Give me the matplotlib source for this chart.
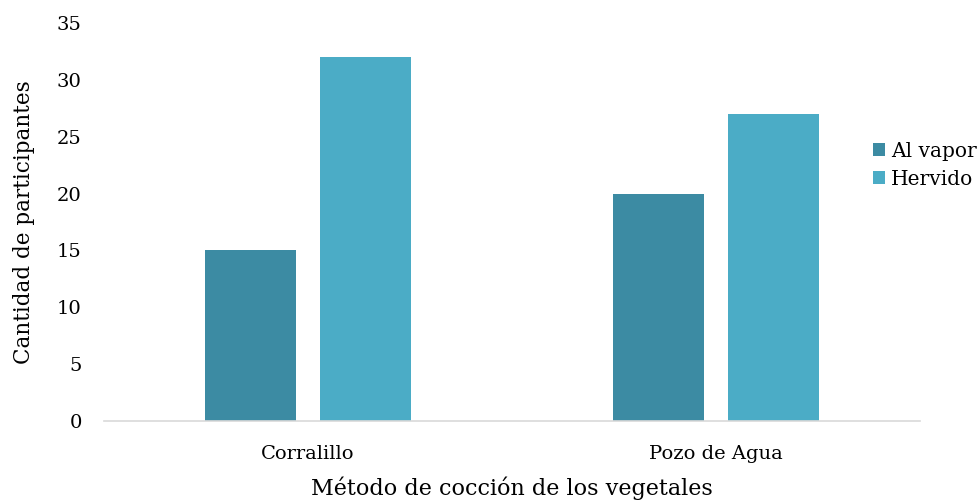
import matplotlib
matplotlib.use("Agg")
import matplotlib.pyplot as plt
import numpy as np

categories = ["Corralillo", "Pozo de Agua"]
al_vapor = [15, 20]
hervido = [32, 27]
series_names = ["Al vapor", "Hervido"]
yticks = [0, 5, 10, 15, 20, 25, 30, 35]

plt.rcParams['font.family'] = ['DejaVu Serif']

fig = plt.figure(figsize=(9.79, 5.0), dpi=100)
ax = fig.add_axes([104/979, 79/500, 816/979, 398/500])

x = np.arange(len(categories))
w = 0.223
off = 0.1415
ax.bar(x - off, al_vapor, w, color='#3C8BA3', label=series_names[0])
ax.bar(x + off, hervido, w, color='#4BACC6', label=series_names[1])

ax.set_xlim(-0.5, 1.5)
ax.set_ylim(0, 35)
ax.set_yticks(yticks)
ax.set_xticks(x)
ax.set_xticklabels(categories)
for s in ['top', 'right', 'left']:
    ax.spines[s].set_visible(False)
ax.spines['bottom'].set_color('#D9D9D9')
ax.spines['bottom'].set_linewidth(1.2)
ax.tick_params(axis='both', length=0, labelsize=14, colors='#000000')
ax.tick_params(axis='y', pad=16)
ax.tick_params(axis='x', pad=17)
ax.set_xlabel("Método de cocción de los vegetales", fontsize=16, labelpad=10)
ax.set_ylabel("Cantidad de participantes", fontsize=15.5, labelpad=16)

leg = ax.legend(loc='center left', bbox_to_anchor=(0.942, 0.643), frameon=False,
                fontsize=14.5, handlelength=0.6, handleheight=0.6, handletextpad=0.3,
                labelspacing=0.45, borderaxespad=0, borderpad=0)

fig.savefig("out.png", dpi=100)
